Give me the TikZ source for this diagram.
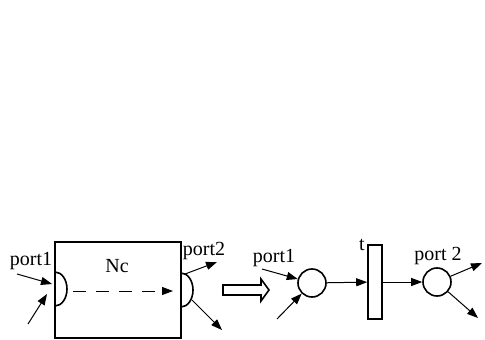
\documentclass[tikz,border=0pt]{standalone}
\usepackage{fontspec}
\setmainfont{Liberation Serif}
\usetikzlibrary{arrows.meta}
\tikzset{
  lbl/.style={inner sep=0pt, anchor=base, font=\fontsize{20}{22}\selectfont},
  arr/.style={line width=1pt, -{Triangle[length=11pt,width=8pt]}},
  place/.style={circle, draw, line width=1.6pt, minimum size=28pt, inner sep=0pt},
  trans/.style={rectangle, draw, line width=1.6pt, minimum width=14pt, minimum height=74pt, inner sep=0pt},
  portarc/.style={line width=1.6pt},
}
\begin{document}
\begin{tikzpicture}[x=1pt,y=-1pt]
\useasboundingbox (0,0) rectangle (485,340);

% composite net N_c with its two interface ports
\node[draw, line width=1.6pt, minimum width=126pt, minimum height=96pt, inner sep=0pt] (box) at (118,290) {};
\draw[portarc] (55,272) arc[start angle=90, end angle=-90, x radius=12pt, y radius=17pt];
\draw[portarc] (181,273) arc[start angle=90, end angle=-90, x radius=12pt, y radius=17pt];
\coordinate (in1) at (73,291);
\coordinate (out1) at (173,291);
\draw[arr, dash pattern=on 13pt off 10pt] (in1) -- (out1);

\node[lbl] (lp1) at (31,265) {port1};
\node[lbl] (lnc) at (117,272) {Nc};
\node[lbl] (lp2) at (204,255) {port2};

\coordinate (a1s) at (17,274);  \coordinate (a1e) at (52,284);
\coordinate (a2s) at (28,324);  \coordinate (a2e) at (47,294);
\coordinate (b1s) at (185,274); \coordinate (b1e) at (217,262);
\coordinate (b2s) at (192,300); \coordinate (b2e) at (222,330);
\draw[arr] (a1s) -- (a1e);
\draw[arr] (a2s) -- (a2e);
\draw[arr] (b1s) -- (b1e);
\draw[arr] (b2s) -- (b2e);

% hollow transformation arrow
\draw[line width=1.6pt, line join=miter] (223,285) -- (261,285) -- (261,279) -- (269,290)
  -- (261,301) -- (261,295) -- (223,295) -- cycle;

% equivalent Petri net: place -- transition -- place
\node[place] (p1) at (312,283) {};
\node[trans] (t) at (375,282) {};
\node[place] (p2) at (437,282) {};

\node[lbl] (lq1) at (274,262) {port1};
\node[lbl] (lt) at (362,250) {t};
\node[lbl] (lq2) at (438,260) {port 2};

\coordinate (c1) at (262,269);
\coordinate (c2) at (277,319);
\coordinate (d1) at (482,263);
\coordinate (d2) at (478,318);
\draw[arr] (c1) -- (p1);
\draw[arr] (c2) -- (p1);
\draw[arr] (p1) -- (t);
\draw[arr] (t) -- (p2);
\draw[arr] (p2) -- (d1);
\draw[arr] (p2) -- (d2);
\end{tikzpicture}
\end{document}
